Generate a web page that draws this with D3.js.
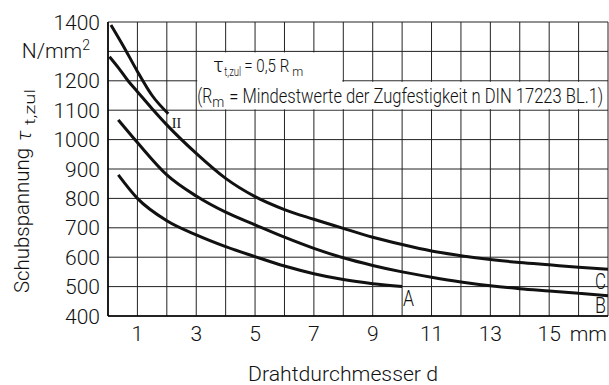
<!DOCTYPE html>
<html>
<head>
<meta charset="utf-8">
<script src="https://cdn.jsdelivr.net/npm/d3@7"></script>
<style>
body { margin: 0; background: #fff; }
text { font-family: Roboto, "Liberation Sans", sans-serif; font-weight: 300; fill: #111; }
</style>
</head>
<body>
<div id="chart"></div>
<script>
const W = 609, H = 385;
const margin = { top: 22, right: 1, bottom: 69, left: 108 };

// values (d in mm, tau in N/mm2)
const xTicks = [1, 3, 5, 7, 9, 11, 13, 15];
const yTicks = [400, 500, 600, 700, 800, 900, 1000, 1100, 1200, 1300, 1400];
const curveI = [[0.1, 1390], [0.5, 1322], [1, 1232], [1.5, 1150], [2.05, 1088]];
const curveC = [[0.05, 1282], [0.35, 1245], [0.68, 1200], [1, 1163], [1.5, 1105], [2, 1050], [3, 953], [4, 868], [5, 806], [6, 762],
  [7, 729], [8, 698], [9, 668], [10, 643], [11, 621], [12, 605], [13, 592], [14, 582], [15, 574], [16, 566], [17, 559]];
const curveB = [[0.35, 1067], [1, 990], [2, 880], [3, 808], [4, 753], [5, 710], [6, 668], [7, 630], [8, 598], [9, 572],
  [10, 550], [11, 532], [12, 516], [13, 503], [14, 493], [15, 485], [16, 477], [17, 469]];
const curveA = [[0.35, 880], [1, 800], [2, 724], [3, 676], [4, 636], [5, 602], [6, 570], [7, 544], [8, 524], [9, 510], [10, 500]];

const svg = d3.select("#chart").append("svg").attr("width", W).attr("height", H);

const x = d3.scaleLinear().domain([0, 17]).range([margin.left, W - margin.right]);
const y = d3.scaleLinear().domain([400, 1400]).range([H - margin.bottom, margin.top]);

// grid
svg.append("g").selectAll("line").data(d3.range(0, 18)).enter().append("line")
  .attr("x1", d => x(d)).attr("x2", d => x(d)).attr("y1", y(400)).attr("y2", y(1400))
  .attr("stroke", "#222").attr("stroke-width", 1);
svg.append("g").selectAll("line").data(yTicks).enter().append("line")
  .attr("x1", x(0)).attr("x2", x(17)).attr("y1", d => y(d)).attr("y2", d => y(d))
  .attr("stroke", "#222").attr("stroke-width", 1);

// axes lines
svg.append("line").attr("x1", x(0)).attr("x2", x(0)).attr("y1", y(1400)).attr("y2", y(400)).attr("stroke", "#000").attr("stroke-width", 1.6);
svg.append("line").attr("x1", x(0)).attr("x2", x(17)).attr("y1", y(400)).attr("y2", y(400)).attr("stroke", "#000").attr("stroke-width", 1.6);

// white note box
svg.append("rect").attr("x", x(3) + 1).attr("y", y(1300) + 1).attr("width", x(8) - x(3) - 2).attr("height", y(1100) - y(1300) - 2).attr("fill", "#fff");
svg.append("rect").attr("x", x(3) + 1).attr("y", y(1200) + 1).attr("width", x(17) - x(3) - 2).attr("height", y(1100) - y(1200) - 2).attr("fill", "#fff");

// y tick labels
svg.append("g").selectAll("text").data(yTicks.filter(d => d != 1300)).enter().append("text")
  .attr("x", x(0) - 8).attr("y", d => y(d) + 7.5).attr("text-anchor", "end")
  .style("font-size", "21px").text(d => d);
const unit = svg.append("text").attr("x", x(0) - 18).attr("y", y(1300) + 7).attr("text-anchor", "end").style("font-size", "21px");
unit.append("tspan").text("N/mm");
unit.append("tspan").attr("dy", -8).style("font-size", "14px").text("2");

// x tick labels
svg.append("g").selectAll("text").data(xTicks).enter().append("text")
  .attr("x", d => x(d)).attr("y", y(400) + 25).attr("text-anchor", "middle")
  .style("font-size", "21px").text(d => d);
svg.append("text").attr("x", x(17) - 1).attr("y", y(400) + 25).attr("text-anchor", "end")
  .style("font-size", "21px").text("mm");

// axis titles
svg.append("text").attr("x", 248).attr("y", H - 4)
  .attr("textLength", 190).attr("lengthAdjust", "spacingAndGlyphs")
  .style("font-size", "20px").text("Drahtdurchmesser d");
const yt = svg.append("g").attr("transform", "translate(28.5,293) rotate(-90)");
yt.append("text").attr("x", 0).attr("y", 0).attr("textLength", 145).attr("lengthAdjust", "spacingAndGlyphs")
  .style("font-size", "20px").text("Schubspannung");
yt.append("text").attr("x", 152).attr("y", 2).style("font-size", "21px").style("font-style", "italic").text("τ");
yt.append("text").attr("x", 168).attr("y", 6).attr("textLength", 36).attr("lengthAdjust", "spacingAndGlyphs")
  .style("font-size", "15px").text("t,zul");

// note text
svg.append("text").attr("x", x(3) + 17).attr("y", y(1300) + 21).style("font-size", "20px").text("τ");
svg.append("text").attr("x", x(3) + 28).attr("y", y(1300) + 25)
  .attr("textLength", 17).attr("lengthAdjust", "spacingAndGlyphs").style("font-size", "12px").text("t,zul");
svg.append("text").attr("x", x(3) + 48).attr("y", y(1300) + 21)
  .attr("textLength", 45).attr("lengthAdjust", "spacingAndGlyphs").style("font-size", "18px").text("= 0,5 R");
svg.append("text").attr("x", x(3) + 96).attr("y", y(1300) + 25)
  .attr("textLength", 11).attr("lengthAdjust", "spacingAndGlyphs").style("font-size", "13px").text("m");
svg.append("text").attr("x", x(3) + 1).attr("y", y(1100) - 7)
  .attr("textLength", 15).attr("lengthAdjust", "spacingAndGlyphs").style("font-size", "21px").text("(R");
svg.append("text").attr("x", x(3) + 16).attr("y", y(1100) - 3)
  .attr("textLength", 12).attr("lengthAdjust", "spacingAndGlyphs").style("font-size", "15px").text("m");
svg.append("text").attr("x", x(3) + 33).attr("y", y(1100) - 7)
  .attr("textLength", 374).attr("lengthAdjust", "spacingAndGlyphs").style("font-size", "21px")
  .text("= Mindestwerte der Zugfestigkeit n DIN 17223 BL.1)");

// curves
const line = d3.line().x(d => x(d[0])).y(d => y(d[1])).curve(d3.curveMonotoneX);
[curveI, curveC, curveB, curveA].forEach(c => {
  svg.append("path").attr("d", line(c)).attr("fill", "none").attr("stroke", "#111").attr("stroke-width", 3);
});

// curve labels
svg.append("text").attr("x", x(2) + 5).attr("y", y(1100) + 18)
  .style("font-family", "'Liberation Serif', serif").style("font-weight", 400).style("font-size", "14px").text("II");
svg.append("text").attr("x", x(10) + 1).attr("y", y(500) + 19).attr("textLength", 11).attr("lengthAdjust", "spacingAndGlyphs").style("font-size", "22px").text("A");
svg.append("text").attr("x", x(17) - 13).attr("y", y(500) + 26).attr("textLength", 11).attr("lengthAdjust", "spacingAndGlyphs").style("font-size", "22px").text("B");
svg.append("text").attr("x", x(17) - 13).attr("y", y(600) + 32).attr("textLength", 11).attr("lengthAdjust", "spacingAndGlyphs").style("font-size", "22px").text("C");
</script>
</body>
</html>
